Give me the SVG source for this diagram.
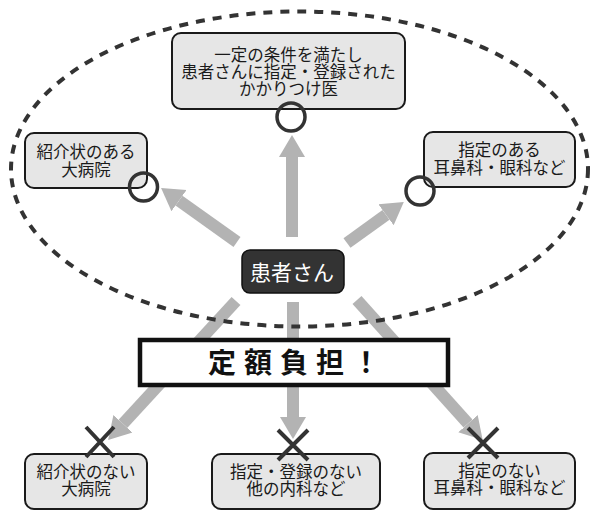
<svg xmlns="http://www.w3.org/2000/svg" width="600" height="517" viewBox="0 0 600 517">
<style>
.box{fill:#e6e6e6;stroke:#1a1a1a;stroke-width:2}
.t{font-family:"Noto Sans CJK JP","Noto Sans CJK SC",sans-serif;font-size:16.5px;fill:#1a1a1a;text-anchor:middle}
.arr{stroke:#b3b3b3;stroke-width:12;fill:none;marker-end:url(#ah)}
.ok{fill:none;stroke:#333;stroke-width:3.5}
.ng{stroke:#333;stroke-width:4;fill:none}
</style>
<defs>
<marker id="ah" markerUnits="userSpaceOnUse" markerWidth="24" markerHeight="28" refX="0" refY="13" orient="auto" viewBox="0 0 24 26">
<path d="M0,0 L22,13 L0,26 z" fill="#b3b3b3"/>
</marker>
</defs>
<rect width="600" height="517" fill="#fff"/>
<g id="connectors">
<line class="arr" x1="292" y1="237" x2="292" y2="157"/>
<line class="arr" x1="237" y1="242" x2="179" y2="200.7"/>
<line class="arr" x1="347" y1="243" x2="386" y2="214.8"/>
<line class="arr" x1="236" y1="301" x2="123" y2="423.8"/>
<line class="arr" x1="293" y1="302" x2="293" y2="417"/>
<line class="arr" x1="357" y1="300" x2="468" y2="423.6"/>
</g>
<ellipse id="zone" cx="299.5" cy="169" rx="288.5" ry="157.5" fill="none" stroke="#333" stroke-width="4" stroke-dasharray="9 8"/>
<g id="n-kakaritsuke">
<rect class="box" x="172" y="33" width="233" height="76" rx="9"/>
<text class="t" x="288.5" y="61">一定の条件を満たし</text>
<text class="t" x="288.5" y="78">患者さんに指定・登録された</text>
<text class="t" x="288.5" y="95">かかりつけ医</text>
<circle class="ok" cx="291" cy="117" r="14"/>
</g>
<g id="n-daibyoin-ari">
<rect class="box" x="25" y="133" width="122" height="55" rx="9"/>
<text class="t" x="86" y="158">紹介状のある</text>
<text class="t" x="86" y="176">大病院</text>
<circle class="ok" cx="143.5" cy="187" r="14"/>
</g>
<g id="n-jibika-ari">
<rect class="box" x="424" y="132" width="151" height="55" rx="9"/>
<text class="t" x="499.5" y="156">指定のある</text>
<text class="t" x="499.5" y="174">耳鼻科・眼科など</text>
<circle class="ok" cx="420" cy="191" r="14"/>
</g>
<g id="n-patient">
<rect x="242" y="250" width="102" height="43" rx="8" fill="#333" stroke="#111" stroke-width="1.5"/>
<text x="292" y="279.5" style="font-family:'Noto Sans CJK JP','Noto Sans CJK SC',sans-serif;font-size:21px;fill:#fff;text-anchor:middle">患者さん</text>
</g>
<g id="n-banner">
<rect x="140" y="340" width="308" height="45" fill="#fff" stroke="#111" stroke-width="4.5"/>
<text x="208" y="373" style="font-family:'Noto Sans CJK JP','Noto Sans CJK SC',sans-serif;font-size:28px;font-weight:bold;fill:#111;letter-spacing:8px">定額負担！</text>
</g>
<g id="n-daibyoin-nashi">
<rect class="box" x="25" y="454" width="122" height="55" rx="9"/>
<text class="t" x="86" y="478">紹介状のない</text>
<text class="t" x="86" y="495">大病院</text>
<path class="ng" d="M86,427 L114,457 M114,427 L86,457"/>
</g>
<g id="n-naika-nashi">
<rect class="box" x="212" y="454" width="168" height="55" rx="9"/>
<text class="t" x="296" y="478">指定・登録のない</text>
<text class="t" x="296" y="495">他の内科など</text>
<path class="ng" d="M278,430 L308,460 M308,430 L278,460"/>
</g>
<g id="n-jibika-nashi">
<rect class="box" x="424" y="453" width="151" height="56" rx="9"/>
<text class="t" x="499.5" y="477">指定のない</text>
<text class="t" x="499.5" y="494">耳鼻科・眼科など</text>
<path class="ng" d="M468,428 L498,458 M498,428 L468,458"/>
</g>
</svg>
